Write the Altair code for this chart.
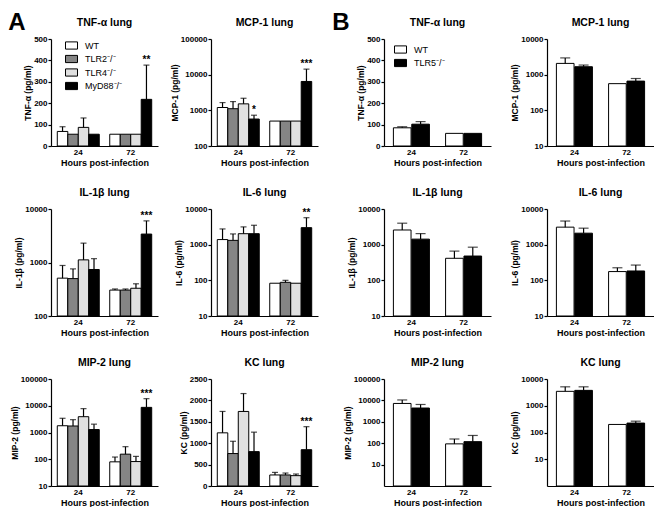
import altair as alt
import pandas as pd

FONT = "Liberation Sans"

hours = ["24", "72"]
groups_a = ["WT", "TLR2⁻/⁻", "TLR4⁻/⁻", "MyD88⁻/⁻"]
fills_a = ["#ffffff", "#858585", "#e0e0e0", "#000000"]
groups_b = ["WT", "TLR5⁻/⁻"]
fills_b = ["#ffffff", "#000000"]

# order: 24h (each group), then 72h (each group)
a_tnf_mean = [68, 55, 87, 55, 55, 55, 55, 218]
a_tnf_upper = [90, 55, 131, 55, 55, 55, 55, 378]
a_tnf_sig = ["", "", "", "", "", "", "", "**"]

a_mcp_mean = [1200, 1110, 1520, 570, 500, 500, 500, 6450]
a_mcp_upper = [1650, 1760, 2180, 730, 500, 500, 500, 14300]
a_mcp_sig = ["", "", "", "*", "", "", "", "***"]

a_il1b_mean = [510, 500, 1120, 740, 305, 305, 330, 3400]
a_il1b_upper = [880, 760, 2300, 1180, 320, 320, 400, 6000]
a_il1b_sig = ["", "", "", "", "", "", "", "***"]

a_il6_mean = [1390, 1320, 2030, 2030, 83, 88, 83, 3000]
a_il6_upper = [2760, 2000, 3150, 3500, 83, 100, 83, 5700]
a_il6_sig = ["", "", "", "", "", "", "", "**"]

a_mip2_mean = [1790, 1750, 3900, 1290, 80, 155, 82, 8700]
a_mip2_upper = [3400, 3020, 7800, 2050, 121, 295, 128, 18400]
a_mip2_sig = ["", "", "", "", "", "", "", "***"]

a_kc_mean = [1242, 758, 1742, 803, 258, 258, 242, 848]
a_kc_upper = [1742, 1045, 2160, 1258, 318, 303, 280, 1386]
a_kc_sig = ["", "", "", "", "", "", "", "***"]

b_tnf_mean = [85, 102, 59, 59]
b_tnf_upper = [90, 114, 59, 59]
b_mcp_mean = [2070, 1670, 560, 660]
b_mcp_upper = [2950, 1860, 560, 780]
b_il1b_mean = [2580, 1430, 415, 480]
b_il1b_upper = [4000, 2040, 660, 850]
b_il6_mean = [3100, 2100, 176, 183]
b_il6_upper = [4600, 2900, 225, 268]
b_mip2_mean = [7200, 4400, 93, 118]
b_mip2_upper = [10500, 6450, 157, 230]
b_kc_mean = [3460, 3760, 200, 225]
b_kc_upper = [5100, 5100, 200, 265]
b_sig = ["", "", "", ""]

lin500 = [0, 100, 200, 300, 400, 500]
lin2500 = [0, 500, 1000, 1500, 2000, 2500]

W, H = 107, 107


def panel(title, ytitle, means, uppers, sigs, groups, fills, stype, domain, ticks,
          pin, pout, opin, cap, legend=None):
    rows = []
    i = 0
    for h in hours:
        for g in groups:
            rows.append({"hour": h, "group": g, "mean": means[i],
                         "upper": uppers[i], "sig": sigs[i]})
            i += 1
    df = pd.DataFrame(rows)
    base = alt.Chart(df)
    xenc = alt.X("hour:N", sort=hours,
                 scale=alt.Scale(domain=hours, paddingInner=pin, paddingOuter=pout),
                 axis=alt.Axis(title="Hours post-infection", labelAngle=0, ticks=False))
    xoff = alt.XOffset("group:N", sort=groups,
                       scale=alt.Scale(domain=groups, paddingInner=opin))
    if stype == "log":
        ysc = alt.Scale(type="log", domain=domain, nice=False)
    else:
        ysc = alt.Scale(type="linear", domain=domain, nice=False, zero=True)
    yax = alt.Axis(title=ytitle, values=ticks, format="d")
    if legend is None:
        col = alt.Color("group:N", sort=groups, scale=alt.Scale(domain=groups, range=fills), legend=None)
    else:
        col = alt.Color("group:N", sort=groups, scale=alt.Scale(domain=groups, range=fills), legend=legend)
    bars = base.mark_bar(stroke="black", strokeWidth=1).encode(
        x=xenc, xOffset=xoff,
        y=alt.Y("mean:Q", scale=ysc, axis=yax),
        y2=alt.datum(domain[0]),
        color=col,
    )
    err = base.mark_rule(color="black", strokeWidth=1.2).encode(
        x=xenc, xOffset=xoff,
        y=alt.Y("mean:Q", scale=ysc, axis=yax),
        y2="upper:Q",
    )
    capm = base.transform_filter("datum.upper > datum.mean").mark_tick(
        color="black", thickness=1.2, size=cap).encode(
        x=xenc, xOffset=xoff,
        y=alt.Y("upper:Q", scale=ysc, axis=yax),
    )
    stars = base.transform_filter("datum.sig != ''").mark_text(
        baseline="alphabetic", dy=-2, fontSize=10, fontWeight="bold", font=FONT, color="black").encode(
        x=xenc, xOffset=xoff,
        y=alt.Y("upper:Q", scale=ysc, axis=yax),
        text="sig:N",
    )
    return alt.layer(bars, err, capm, stars).properties(
        width=W, height=H, title=alt.Title(title, offset=7))


def leg(x, y):
    return alt.Legend(orient="none", legendX=x, legendY=y, title=None,
                      symbolType="M-1,-0.6H1V0.6H-1Z", symbolSize=144,
                      symbolStrokeColor="black", symbolStrokeWidth=1,
                      labelFont=FONT, labelFontSize=9, labelFontWeight="normal",
                      labelColor="black", rowPadding=0.5, labelOffset=7, padding=0)


A_args = dict(groups=groups_a, fills=fills_a, pin=0.2, pout=0.12, opin=0.0, cap=6)
B_args = dict(groups=groups_b, fills=fills_b, pin=0.31, pout=0.18, opin=0.04, cap=10)

A_panels = [
    panel("TNF-α lung", "TNF-α (pg/ml)", a_tnf_mean, a_tnf_upper, a_tnf_sig,
          stype="linear", domain=[0, 500], ticks=lin500, legend=leg(14, 0), **A_args),
    panel("MCP-1 lung", "MCP-1 (pg/ml)", a_mcp_mean, a_mcp_upper, a_mcp_sig,
          stype="log", domain=[100, 100000], ticks=[100, 1000, 10000, 100000], **A_args),
    panel("IL-1β lung", "IL-1β (pg/ml)", a_il1b_mean, a_il1b_upper, a_il1b_sig,
          stype="log", domain=[100, 10000], ticks=[100, 1000, 10000], **A_args),
    panel("IL-6 lung", "IL-6 (pg/ml)", a_il6_mean, a_il6_upper, a_il6_sig,
          stype="log", domain=[10, 10000], ticks=[10, 100, 1000, 10000], **A_args),
    panel("MIP-2 lung", "MIP-2 (pg/ml)", a_mip2_mean, a_mip2_upper, a_mip2_sig,
          stype="log", domain=[10, 100000], ticks=[10, 100, 1000, 10000, 100000], **A_args),
    panel("KC lung", "KC (pg/ml)", a_kc_mean, a_kc_upper, a_kc_sig,
          stype="linear", domain=[0, 2500], ticks=lin2500, **A_args),
]

B_panels = [
    panel("TNF-α lung", "TNF-α (pg/ml)", b_tnf_mean, b_tnf_upper, b_sig,
          stype="linear", domain=[0, 500], ticks=lin500, legend=leg(10, 4), **B_args),
    panel("MCP-1 lung", "MCP-1 (pg/ml)", b_mcp_mean, b_mcp_upper, b_sig,
          stype="log", domain=[10, 10000], ticks=[10, 100, 1000, 10000], **B_args),
    panel("IL-1β lung", "IL-1β (pg/ml)", b_il1b_mean, b_il1b_upper, b_sig,
          stype="log", domain=[10, 10000], ticks=[10, 100, 1000, 10000], **B_args),
    panel("IL-6 lung", "IL-6 (pg/ml)", b_il6_mean, b_il6_upper, b_sig,
          stype="log", domain=[10, 10000], ticks=[10, 100, 1000, 10000], **B_args),
    panel("MIP-2 lung", "MIP-2 (pg/ml)", b_mip2_mean, b_mip2_upper, b_sig,
          stype="log", domain=[1, 100000], ticks=[10, 100, 1000, 10000, 100000], **B_args),
    panel("KC lung", "KC (pg/ml)", b_kc_mean, b_kc_upper, b_sig,
          stype="log", domain=[1, 10000], ticks=[10, 100, 1000, 10000], **B_args),
]

res = dict(x="independent", y="independent", color="independent", xOffset="independent")


def letter_title(t, dx):
    return alt.Title(t, anchor="start", fontSize=24, fontWeight="bold", font=FONT,
                     color="black", offset=-17, dx=dx)


A_grid = alt.concat(*A_panels, columns=2, spacing={"row": 20, "column": 12},
                    title=letter_title("A", -2)).resolve_scale(**res).resolve_legend(color="independent")
B_grid = alt.concat(*B_panels, columns=2, spacing={"row": 20, "column": 19},
                    title=letter_title("B", -11)).resolve_scale(**res).resolve_legend(color="independent")

chart = alt.hconcat(A_grid, B_grid, spacing=14).resolve_scale(**res).resolve_legend(color="independent").properties(
    padding={"left": 0, "top": 2, "right": 0, "bottom": 0}
).configure_view(stroke=None).configure_axis(
    domainColor="black", domainWidth=1.2, tickColor="black", tickWidth=1.2, tickSize=3,
    labelFont=FONT, labelFontSize=8, labelFontWeight="bold", labelColor="black",
    titleFont=FONT, titleFontSize=8.5, titleFontWeight="bold", titleColor="black",
    grid=False, labelPadding=1, titlePadding=1,
).configure_axisX(labelPadding=2, titlePadding=2, titleFontSize=9).configure_title(
    font=FONT, fontSize=10.5, fontWeight="bold", color="black"
)

chart.save("out.html", embed_options={"renderer": "svg", "actions": False})
